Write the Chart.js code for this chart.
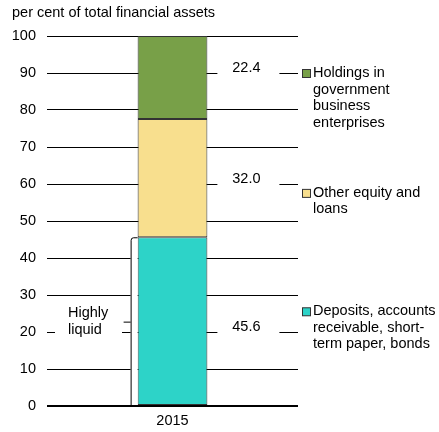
<!DOCTYPE html>
<html>
<head>
<meta charset="utf-8">
<script src="https://cdn.jsdelivr.net/npm/chart.js@4/dist/chart.umd.min.js"></script>
<style>
	html, body { margin: 0; padding: 0; background: #fff; }
	#wrap { position: relative; width: 439px; height: 432px; }
</style>
</head>
<body>
<div id="wrap"><canvas id="chart" width="439" height="432"></canvas></div>
<script>
const categories = ['2015'];
const seriesNames = [
	'Deposits, accounts receivable, short-term paper, bonds',
	'Other equity and loans',
	'Holdings in government business enterprises',
];
const deposits = [45.6];
const otherEquity = [32.0];
const holdings = [22.4];
const valueLabels = ['45.6', '32.0', '22.4'];
const legendLines = [
	['Deposits, accounts', 'receivable, short-', 'term paper, bonds'],
	['Other equity and', 'loans'],
	['Holdings in', 'government', 'business', 'enterprises'],
];
const yTitle = 'per cent of total financial assets';
const bracketLabel = ['Highly', 'liquid'];

const colors = ['#2dd3c8', '#f8df8e', '#78a048'];
const FAMILY = '"Liberation Sans", Arial, sans-serif';
const SIZE = 14.5;
const FONT = SIZE + 'px ' + FAMILY;

// where the annotations sit, in axis units
const labelAnchors = [20, 60, 90];
const legendAnchors = [25.6, 57.6, 90];

const annotations = {
	id: 'annotations',
	afterDraw(chart) {
		const { ctx, chartArea, scales } = chart;
		const y = scales.y;
		const bar = chart.getDatasetMeta(0).data[0];
		const barLeft = bar.x - bar.width / 2;
		const barRight = bar.x + bar.width / 2;
		ctx.save();
		ctx.font = FONT;
		ctx.fillStyle = '#000';
		ctx.textBaseline = 'middle';

		// axis title
		ctx.textAlign = 'left';
		ctx.fillText(yTitle, 12, 13);

		// value labels on white boxes
		valueLabels.forEach((t, i) => {
			const gy = y.getPixelForValue(labelAnchors[i]);
			ctx.fillStyle = '#fff';
			ctx.fillRect(barRight + 10, gy - 15, 62, 20);
			ctx.fillStyle = '#000';
			ctx.textAlign = 'center';
			ctx.fillText(t, barRight + 39, gy - 5);
		});

		// legend
		legendLines.forEach((lines, i) => {
			const ly = y.getPixelForValue(legendAnchors[i]);
			const mx = chartArea.right + 4;
			ctx.fillStyle = colors[i];
			ctx.fillRect(mx + 0.5, ly - 3.5, 8, 8);
			ctx.strokeStyle = '#333';
			ctx.lineWidth = 1;
			ctx.strokeRect(mx + 0.5, ly - 3.5, 8, 8);
			ctx.fillStyle = '#000';
			ctx.textAlign = 'left';
			lines.forEach((l, j) => ctx.fillText(l, mx + 11, ly + j * 16.5));
		});

		// highly liquid bracket
		const top = y.getPixelForValue(deposits[0]);
		const bottom = y.getPixelForValue(0) - 1;
		const bx = barLeft - 7;
		ctx.fillStyle = '#fff';
		ctx.fillRect(bx, top, 7, bottom - top);
		ctx.strokeStyle = '#000';
		ctx.lineWidth = 1;
		ctx.beginPath();
		ctx.moveTo(barLeft, top + 0.5);
		ctx.lineTo(bx + 3, top + 0.5);
		ctx.quadraticCurveTo(bx + 0.5, top + 0.5, bx + 0.5, top + 3);
		ctx.lineTo(bx + 0.5, bottom);
		ctx.stroke();
		const mid = y.getPixelForValue(deposits[0] / 2);
		ctx.beginPath();
		ctx.moveTo(bx - 7, mid + 0.5);
		ctx.lineTo(bx, mid + 0.5);
		ctx.stroke();

		const ty = y.getPixelForValue(20);
		ctx.fillStyle = '#fff';
		ctx.fillRect(chartArea.left + 8, ty - 28, 67, 38);
		ctx.fillStyle = '#000';
		ctx.textAlign = 'left';
		ctx.fillText(bracketLabel[0], chartArea.left + 21, ty - 19);
		ctx.fillText(bracketLabel[1], chartArea.left + 21, ty - 2);
		ctx.restore();
	},
};

new Chart(document.getElementById('chart'), {
	type: 'bar',
	data: {
		labels: categories,
		datasets: [deposits, otherEquity, holdings].map((d, i) => ({
			label: seriesNames[i],
			data: d,
			backgroundColor: colors[i],
			borderColor: '#333',
			borderWidth: 1,
			borderSkipped: false,
			categoryPercentage: 1,
			barPercentage: 0.278,
		})),
	},
	options: {
		responsive: false,
		animation: false,
		events: [],
		layout: { padding: { top: 36, right: 141, left: 0, bottom: 0 } },
		plugins: { legend: { display: false }, tooltip: { enabled: false } },
		scales: {
			x: {
				stacked: true,
				grid: { display: false, drawTicks: false },
				border: { display: false },
				ticks: { color: '#000', font: { family: FAMILY, size: SIZE }, padding: 6 },
				afterFit(s) { s.height = 26; },
			},
			y: {
				stacked: true,
				min: 0,
				max: 100,
				ticks: { stepSize: 10, color: '#000', padding: 11, font: { family: FAMILY, size: SIZE } },
				grid: {
					color: '#000',
					lineWidth: (c) => (c.tick && c.tick.value === 0 ? 2 : 1),
					drawTicks: false,
				},
				border: { display: false },
				afterFit(s) { s.width = 47; },
			},
		},
	},
	plugins: [annotations],
});
</script>
</body>
</html>
